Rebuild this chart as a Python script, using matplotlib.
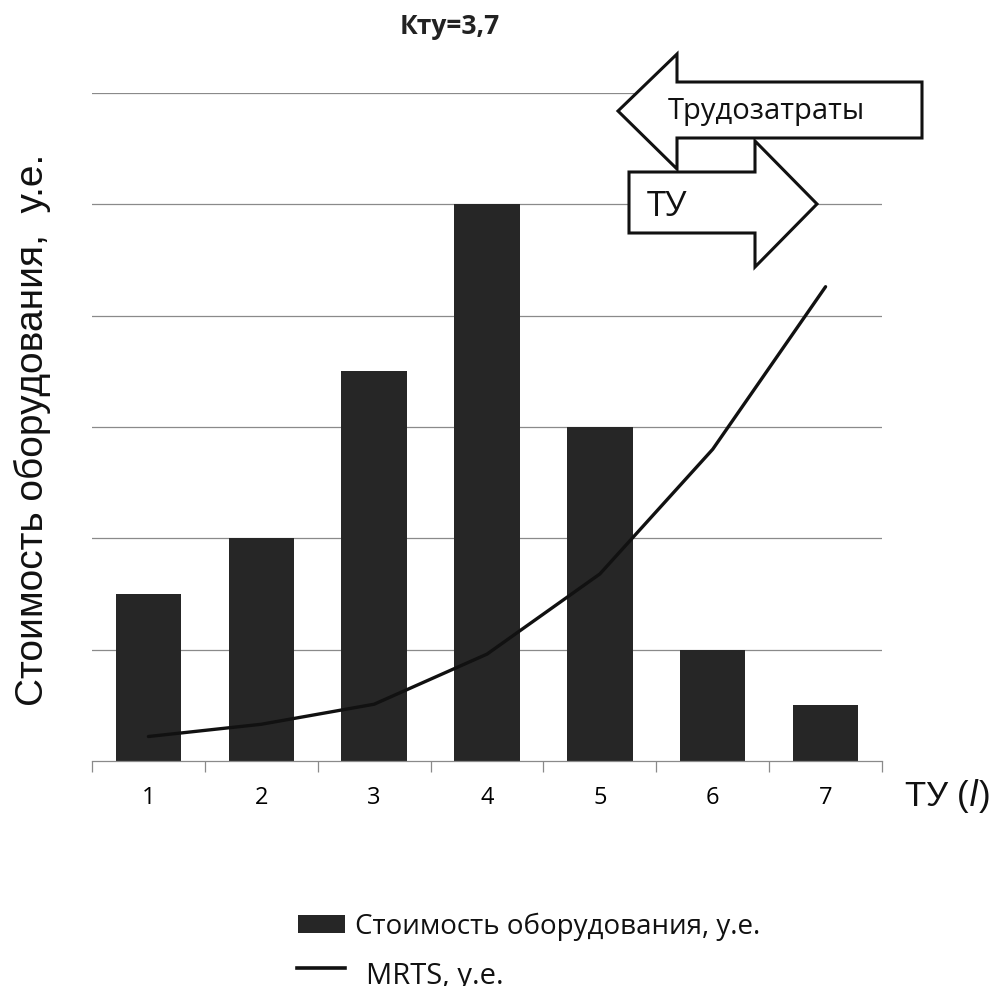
import matplotlib.pyplot as plt
from matplotlib.patches import Polygon, Rectangle
from matplotlib.lines import Line2D

# data
tu = [1, 2, 3, 4, 5, 6, 7]
cost = [1.5, 2.0, 3.5, 5.0, 3.0, 1.0, 0.5]
mrts = [0.22, 0.33, 0.51, 0.96, 1.68, 2.80, 4.26]
tick_labels = ['1', '2', '3', '4', '5', '6', '7']
legend_labels = ['Стоимость оборудования, у.е.', 'MRTS, у.е.']

W, H = 992, 987
fig = plt.figure(figsize=(W / 100, H / 100), dpi=100)
ax = fig.add_axes([92 / W, 1 - 762 / H, 790 / W, 668 / H])

sans = ['Liberation Sans', 'DejaVu Sans']
opens = ['Open Sans', 'DejaVu Sans']

ax.bar(tu, cost, width=0.58, color='#262626', zorder=2)
ax.plot(tu, mrts, color='#111111', lw=2.4, zorder=3, solid_capstyle='round')

ax.set_xlim(0.5, 7.5)
ax.set_ylim(0, 6)
ax.set_yticks([1, 2, 3, 4, 5, 6])
ax.yaxis.grid(True, color='#8a8a8a', lw=0.9)
ax.set_axisbelow(True)
ax.tick_params(axis='y', length=0, labelleft=False)
for s in ['left', 'right', 'top']:
    ax.spines[s].set_visible(False)
ax.spines['bottom'].set_color('#8a8a8a')
ax.spines['bottom'].set_linewidth(0.9)

ax.set_xticks(tu)
ax.set_xticklabels(tick_labels, family=opens, fontsize=17)
ax.set_xticks([i + 0.5 for i in range(0, 8)], minor=True)
ax.tick_params(axis='x', which='major', length=0, pad=17)
ax.tick_params(axis='x', which='minor', length=8, color='#8a8a8a', width=0.9)


def px(x, y):
    return (x / W, 1 - y / H)


fig.text(*px(450, 26), 'Кту=3,7', ha='center', va='center',
         family=opens, fontsize=19, fontweight='bold', color='#222222')
fig.text(*px(990, 796), 'ТУ ($\\mathit{l}$)', ha='right', va='center',
         family=sans, fontsize=25, color='#111111')
fig.text(*px(32, 430), 'Стоимость оборудования,  у.е.', ha='center', va='center',
         rotation=90, family=sans, fontsize=28, color='#111111')

# arrows
left_arrow = [(618, 112), (677, 55), (677, 83), (922, 83), (922, 139),
              (677, 139), (677, 170)]
right_arrow = [(629, 173), (755, 173), (755, 142), (817, 205), (755, 268),
               (755, 234), (629, 234)]
for pts in (left_arrow, right_arrow):
    poly = Polygon([px(x, y) for x, y in pts], closed=True, transform=fig.transFigure,
                   facecolor='white', edgecolor='#111111', lw=2.2, zorder=5)
    fig.patches.append(poly)
fig.text(*px(766, 112), 'Трудозатраты', ha='center', va='center',
         family=opens, fontsize=21, color='#111111', zorder=6)
fig.text(*px(667, 207), 'ТУ', ha='center', va='center',
         family=opens, fontsize=25, color='#111111', zorder=6)

# legend, drawn by hand so the two rows can have different sizes
x0, y0 = px(298, 934)
x1, y1 = px(345, 916)
fig.patches.append(Rectangle((x0, y0), x1 - x0, y1 - y0, transform=fig.transFigure,
                             facecolor='#262626', edgecolor='none'))
fig.lines.append(Line2D([297 / W, 345 / W], [1 - 969 / H, 1 - 969 / H],
                        transform=fig.transFigure, color='#111111', lw=2.6))
fig.text(*px(355, 934), legend_labels[0], ha='left', va='baseline',
         family=opens, fontsize=20, color='#111111')
fig.text(*px(366, 984), legend_labels[1], ha='left', va='baseline',
         family=opens, fontsize=21, color='#111111')

fig.savefig('out.png', dpi=100)
